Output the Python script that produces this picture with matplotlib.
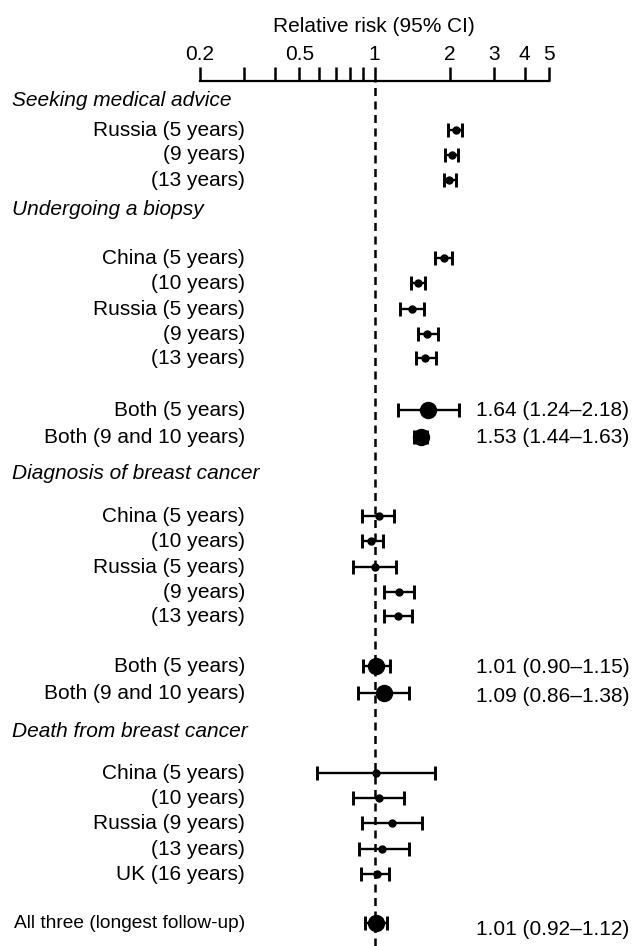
import matplotlib
matplotlib.use('Agg')
import matplotlib.pyplot as plt
import matplotlib.transforms as mtransforms
from matplotlib.ticker import FixedLocator, NullFormatter, FixedFormatter

plt.rcParams['font.family'] = ['Liberation Sans', 'DejaVu Sans']

# data: relative risk with 95% CI
headers = ['Seeking medical advice', 'Undergoing a biopsy',
           'Diagnosis of breast cancer', 'Death from breast cancer']

row_labels = ['Russia (5 years)', '(9 years)', '(13 years)',
              'China (5 years)', '(10 years)', 'Russia (5 years)', '(9 years)', '(13 years)',
              'Both (5 years)', 'Both (9 and 10 years)',
              'China (5 years)', '(10 years)', 'Russia (5 years)', '(9 years)', '(13 years)',
              'Both (5 years)', 'Both (9 and 10 years)',
              'China (5 years)', '(10 years)', 'Russia (9 years)', '(13 years)', 'UK (16 years)',
              'All three (longest follow-up)']
rr = [2.12, 2.04, 1.99,
      1.90, 1.49, 1.41, 1.63, 1.60,
      1.64, 1.53,
      1.04, 0.97, 1.00, 1.25, 1.24,
      1.01, 1.09,
      1.01, 1.04, 1.17, 1.07, 1.02,
      1.01]
ci_lo = [1.97, 1.91, 1.89,
         1.74, 1.40, 1.26, 1.49, 1.46,
         1.24, 1.44,
         0.89, 0.89, 0.82, 1.09, 1.09,
         0.90, 0.86,
         0.59, 0.82, 0.89, 0.87, 0.88,
         0.92]
ci_hi = [2.24, 2.17, 2.13,
         2.05, 1.59, 1.58, 1.79, 1.76,
         2.18, 1.63,
         1.20, 1.08, 1.22, 1.44, 1.41,
         1.15, 1.38,
         1.75, 1.31, 1.55, 1.37, 1.14,
         1.12]
pooled = [False] * 8 + [True] * 2 + [False] * 5 + [True] * 2 + [False] * 5 + [True]
pooled_text = ['1.64 (1.24\u20132.18)', '1.53 (1.44\u20131.63)',
               '1.01 (0.90\u20131.15)', '1.09 (0.86\u20131.38)',
               '1.01 (0.92\u20131.12)']

tick_major = [0.2, 0.5, 1, 2, 3, 4, 5]
tick_minor = [0.3, 0.4, 0.6, 0.7, 0.8, 0.9]

# layout (pixel rows of the figure)
header_y = [100, 209, 473, 731]
row_y = [130, 155, 180,
         258, 283, 309, 334, 358,
         410, 437,
         516, 541, 567, 592, 616,
         666, 693,
         773, 798, 823, 849, 874,
         923]
text_dy = [0, 0, 1, 3, 6]

W, H = 637, 946
fig = plt.figure(figsize=(W / 100, H / 100), dpi=100)
top = 81
ax = fig.add_axes([200 / W, 0, 349 / W, (H - top) / H])
ax.set_xscale('log')
ax.set_xlim(0.2, 5)
ax.set_ylim(H, top)

for s in ['left', 'right', 'bottom']:
    ax.spines[s].set_visible(False)
ax.spines['top'].set_linewidth(1.6)
ax.yaxis.set_visible(False)
ax.xaxis.set_ticks_position('top')
ax.xaxis.set_major_locator(FixedLocator(tick_major))
ax.xaxis.set_major_formatter(FixedFormatter([str(t) for t in tick_major]))
ax.xaxis.set_minor_locator(FixedLocator(tick_minor))
ax.xaxis.set_minor_formatter(NullFormatter())
ax.tick_params(axis='x', which='both', direction='out', length=10, width=1.8,
               pad=2, labelsize=15)

ax.axvline(1, color='black', lw=1.8, dashes=(3.2, 2.2), zorder=1)

for i, y in enumerate(row_y):
    big = pooled[i]
    ax.errorbar(rr[i], y, xerr=[[rr[i] - ci_lo[i]], [ci_hi[i] - rr[i]]],
                fmt='o', color='black', ms=11.5 if big else 5,
                elinewidth=1.7, capsize=5, capthick=2.1, zorder=3)

trans = mtransforms.blended_transform_factory(fig.transFigure, ax.transData)
for h, y in zip(headers, header_y):
    ax.text(12 / W, y, h, transform=trans, ha='left', va='center',
            fontsize=15, style='italic', clip_on=False)
for lab, y in zip(row_labels, row_y):
    # the longest label is squeezed a little so it fits the left margin
    fs = 13.8 if len(lab) > 25 else 15
    ax.text(245 / W, y, lab, transform=trans, ha='right', va='center',
            fontsize=fs, clip_on=False)

pooled_y = [y for y, p in zip(row_y, pooled) if p]
for t, y, dy in zip(pooled_text, pooled_y, text_dy):
    ax.text(476 / W, y + dy, t, transform=trans, ha='left', va='center',
            fontsize=15, clip_on=False)

fig.text(374 / W, 1 - 27 / H, 'Relative risk (95% CI)', ha='center', va='center',
         fontsize=15)

fig.savefig('out.png', dpi=100)
